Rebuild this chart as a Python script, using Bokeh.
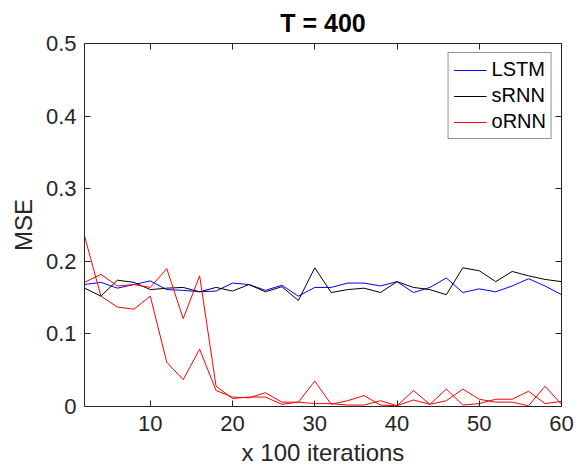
from bokeh.plotting import figure
from bokeh.models import LinearAxis, FixedTicker, CustomJSTickFormatter, Range1d, Legend, LegendItem
from bokeh.embed import file_html
from bokeh.resources import INLINE

iters = list(range(2, 61, 2))
lstm = [0.168, 0.171, 0.163, 0.168, 0.173, 0.161, 0.160, 0.158, 0.159, 0.170,
        0.168, 0.160, 0.167, 0.152, 0.164, 0.164, 0.170, 0.170, 0.166, 0.172,
        0.157, 0.164, 0.177, 0.157, 0.162, 0.158, 0.166, 0.176, 0.166, 0.154]
srnn = [0.163, 0.152, 0.174, 0.171, 0.161, 0.163, 0.164, 0.158, 0.164, 0.159,
        0.168, 0.158, 0.165, 0.146, 0.191, 0.157, 0.161, 0.163, 0.157, 0.172,
        0.164, 0.161, 0.154, 0.191, 0.187, 0.172, 0.186, 0.180, 0.175, 0.172]
ornn_a = [0.235, 0.152, 0.137, 0.134, 0.152, 0.061, 0.037, 0.079, 0.022, 0.013,
          0.012, 0.019, 0.006, 0.006, 0.035, 0.003, 0.008, 0.015, 0.002, 0.001,
          0.022, 0.003, 0.024, 0.002, 0.004, 0.010, 0.010, 0.021, 0.004, 0.007]
ornn_b = [0.171, 0.182, 0.166, 0.168, 0.164, 0.190, 0.121, 0.180, 0.028, 0.011,
          0.013, 0.013, 0.003, 0.006, 0.004, 0.004, 0.002, 0.002, 0.008, 0.001,
          0.009, 0.003, 0.008, 0.024, 0.010, 0.006, 0.006, 0.001, 0.028, 0.003]
x_ticks = [10, 20, 30, 40, 50, 60]
y_ticks = [0, 0.1, 0.2, 0.3, 0.4, 0.5]

FONT = "Liberation Sans"
AX = "#262626"

p = figure(width=579, height=470, output_backend="svg", toolbar_location=None,
           x_range=Range1d(2, 60), y_range=Range1d(0, 0.5),
           min_border_left=84, min_border_right=18, min_border_top=41, min_border_bottom=64,
           title="T = 400", x_axis_label="x 100 iterations", y_axis_label="MSE")
p.title.align = "center"
p.title.text_font = FONT
p.title.text_font_size = "25px"
p.title.text_font_style = "bold"
p.title.text_color = "black"
p.title.standoff = 13
p.xgrid.visible = False
p.ygrid.visible = False
p.outline_line_color = None

xa = p.below[0]
ya = p.left[0]

fmt = CustomJSTickFormatter(code="return Number(tick.toFixed(2)).toString();")
blank = CustomJSTickFormatter(code="return '';")

xa.ticker = FixedTicker(ticks=x_ticks)
ya.ticker = FixedTicker(ticks=y_ticks)
ya.formatter = fmt

extra_top = LinearAxis(ticker=FixedTicker(ticks=x_ticks), formatter=blank,
                       major_label_text_font_size="1px", major_label_standoff=0)
extra_right = LinearAxis(ticker=FixedTicker(ticks=y_ticks), formatter=blank,
                         major_label_text_font_size="1px", major_label_standoff=0)
p.add_layout(extra_top, "above")
p.add_layout(extra_right, "right")

for ax in [xa, ya, extra_top, extra_right]:
    ax.axis_line_color = AX
    ax.major_tick_line_color = AX
    ax.major_tick_in = 6
    ax.major_tick_out = 0
    ax.minor_tick_line_color = None
    ax.major_label_text_font = FONT
    ax.major_label_text_color = AX

for ax in [xa, ya]:
    ax.major_label_text_font_size = "22px"
    ax.axis_label_text_font = FONT
    ax.axis_label_text_font_style = "normal"
    ax.axis_label_text_color = AX
    ax.axis_label_text_font_size = "24px"
xa.major_label_standoff = 9
ya.major_label_standoff = 8
xa.axis_label_standoff = 5
ya.axis_label_standoff = 6

r1 = p.line(iters, lstm, line_color="#0000ff", line_width=1)
r2 = p.line(iters, srnn, line_color="#000000", line_width=1)
r3 = p.line(iters, ornn_a, line_color="#ff0000", line_width=1)
r4 = p.line(iters, ornn_b, line_color="#ff0000", line_width=1)

legend = Legend(items=[LegendItem(label="LSTM", renderers=[r1]),
                       LegendItem(label="sRNN", renderers=[r2]),
                       LegendItem(label="oRNN", renderers=[r3])],
                location="top_right")
legend.label_text_font = FONT
legend.label_text_font_size = "20px"
legend.label_text_color = "black"
legend.border_line_color = AX
legend.border_line_width = 1
legend.background_fill_color = "white"
legend.background_fill_alpha = 1
legend.glyph_width = 33
legend.glyph_height = 20
legend.label_height = 20
legend.label_standoff = 5
legend.spacing = 3
legend.padding = 5
legend.margin = 9
p.add_layout(legend)

open("out.html", "w").write(file_html(p, INLINE))
